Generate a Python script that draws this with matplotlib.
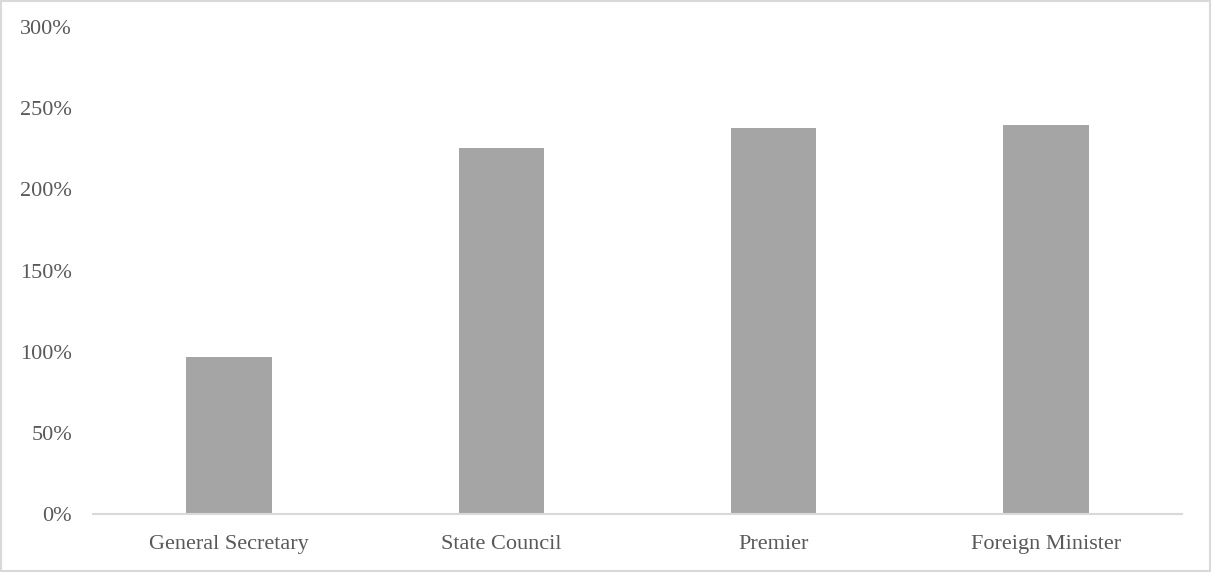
import matplotlib
matplotlib.use("Agg")
import matplotlib.pyplot as plt
from matplotlib.patches import Rectangle
from matplotlib.ticker import FuncFormatter

# Share of coverage by office
categories = ["General Secretary", "State Council", "Premier", "Foreign Minister"]
values = [97.0, 225.5, 237.7, 239.7]
y_ticks = [0, 50, 100, 150, 200, 250, 300]

plt.rcParams['font.family'] = ['Liberation Serif', 'DejaVu Serif']

fig = plt.figure(figsize=(12.12, 5.72), dpi=100)
ax = fig.add_axes([0.0767, 0.1009, 0.8985, 0.8519])

x = range(len(categories))
ax.bar(x, values, width=0.314, color='#A5A5A5', zorder=2)

ax.set_xlim(-0.5, len(categories) - 0.5)
ax.set_ylim(0, 300)
ax.set_yticks(y_ticks)
ax.yaxis.set_major_formatter(FuncFormatter(lambda v, _: f"{v:.0f}%"))
ax.set_xticks(list(x))
ax.set_xticklabels(categories)

for side in ['top', 'right', 'left']:
    ax.spines[side].set_visible(False)
ax.spines['bottom'].set_color('#D9D9D9')
ax.spines['bottom'].set_linewidth(1.5)

ax.tick_params(axis='both', length=0, labelsize=16, labelcolor='#595959')
ax.tick_params(axis='y', pad=15)
ax.tick_params(axis='x', pad=15)

# light outer frame around the chart
fig.patches.append(Rectangle((0.001, 0.001), 0.997, 0.997, transform=fig.transFigure,
                             fill=False, edgecolor='#D9D9D9', linewidth=1.5))

fig.savefig('out.png', dpi=100)
